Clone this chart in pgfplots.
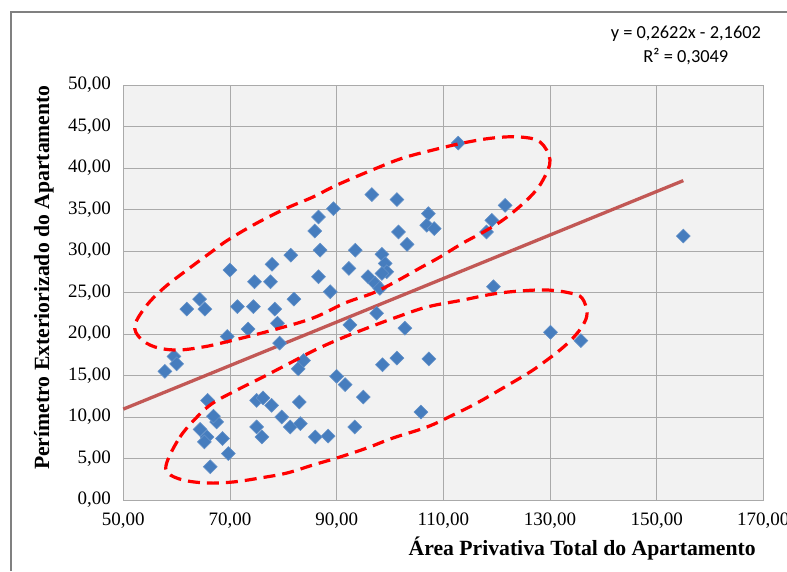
\documentclass[border=0pt]{standalone}
\usepackage{pgfplots}
\pgfplotsset{compat=1.18}
\usepackage{fontspec}
\setmainfont{Liberation Serif}
\newfontfamily\calib{Carlito}
\definecolor{bggray}{RGB}{242,242,242}
\definecolor{gridgray}{RGB}{170,170,170}
\definecolor{mblue}{RGB}{70,125,190}
\definecolor{trend}{RGB}{190,75,72}
\definecolor{framegray}{RGB}{128,128,128}
\begin{document}
\begin{tikzpicture}
\useasboundingbox (0,0) rectangle (787pt,571pt);
\begin{axis}[
  at={(123.3pt,71pt)}, anchor=south west,
  width=640pt, height=415pt, scale only axis,
  xmin=50, xmax=170, ymin=0, ymax=50,
  xtick={50,70,90,110,130,150,170},
  ytick={0,5,10,15,20,25,30,35,40,45,50},
  grid=major,
  major grid style={color=gridgray, line width=0.9pt},
  axis background/.style={fill=bggray},
  axis line style={color=gridgray, line width=0.9pt},
  tick style={draw=none},
  /pgf/number format/fixed,
  /pgf/number format/fixed zerofill,
  /pgf/number format/precision=2,
  /pgf/number format/use comma,
  /pgf/number format/1000 sep={},
  /pgf/number format/assume math mode=true,
  ticklabel style={font=\fontsize{19}{22}\selectfont},
  xticklabel style={yshift=-9pt},
  yticklabel style={xshift=-9pt},
  xlabel={\textbf{Área Privativa Total do Apartamento}},
  ylabel={\textbf{Perímetro Exteriorizado do Apartamento}},
  label style={font=\fontsize{21.7}{24}\selectfont},
  xlabel style={at={(axis description cs:0.717,-0.116)}, anchor=center},
  ylabel style={at={(axis description cs:-0.124,0.536)}, anchor=center, rotate=0},
  clip=false,
]
\addplot[only marks, mark=square*, mark size=4.9pt,
  mark options={rotate=45, fill=mblue, draw=mblue!85!white, line width=0.6pt}]
coordinates {
(112.8,43.0) (96.6,36.8) (101.3,36.2) (89.4,35.1) (121.6,35.5) (86.6,34.1)
(107.2,34.5) (119.1,33.7) (106.9,33.1) (108.3,32.7) (118.1,32.3) (85.9,32.4)
(101.6,32.3) (103.2,30.8) (86.9,30.1) (93.5,30.1) (81.4,29.5) (98.5,29.6)
(99.1,28.5) (99.4,27.5) (98.5,27.3) (92.3,27.9) (77.9,28.4) (70.0,27.7)
(95.9,26.9) (97.2,26.1) (98.1,25.5) (86.6,26.9) (88.8,25.1) (74.6,26.3)
(77.6,26.3) (119.4,25.7) (64.3,24.2) (65.3,23.0) (61.9,23.0) (82.0,24.2)
(71.4,23.3) (74.4,23.3) (78.4,23.0) (97.5,22.5) (78.9,21.3) (92.5,21.1)
(102.8,20.7) (73.4,20.6) (69.5,19.7) (79.3,18.9) (130.1,20.2) (135.8,19.2)
(59.5,17.3) (60.0,16.4) (57.8,15.5) (101.3,17.1) (107.3,17.0) (83.8,16.8)
(82.8,15.8) (98.6,16.3) (90.0,14.9) (91.6,13.9) (95.0,12.4)
(65.8,12.0) (75.0,12.0) (76.2,12.3) (77.8,11.4) (79.7,10.0) (81.3,8.8)
(83.2,9.2) (83.0,11.8) (86.0,7.6) (88.4,7.7) (93.4,8.8) (105.8,10.6)
(64.4,8.5) (65.7,7.6) (67.5,9.4) (66.9,10.1) (75.0,8.8) (76.0,7.6)
(69.7,5.6) (66.3,4.0) (68.6,7.4) (65.2,7.0) (155.0,31.8)
};
\addplot[trend, line width=3.3pt, opacity=0.92] coordinates {(50,10.95) (155,38.48)};
\node[font=\calib\fontsize{18.4}{21}\selectfont, anchor=center] at (axis description cs:0.879,1.123) {y = 0,2622x - 2,1602};
\node[font=\calib\fontsize{18.4}{21}\selectfont, anchor=center] at (axis description cs:0.879,1.069) {R² = 0,3049};
\end{axis}
\begin{scope}[x=1pt,y=-1pt,shift={(0pt,571pt)}]
\draw[framegray, line width=1.3pt] (11,571) -- (11,12) -- (787,12);
\draw[red, line width=3.2pt, dash pattern=on 12pt off 7pt] plot[smooth cycle, tension=0.6] coordinates {
(135,325) (147,305) (165,287) (187,270) (210,253) (228,240) (257,223) (287,208) (313,197) (337,185) (377,168) (403,158) (433,150) (463,143) (493,138) (520,137) (540,142) (550,160) (543,180) (530,197) (507,217) (487,230) (463,243) (440,257) (420,268) (395,282) (373,293) (345,303) (313,318) (273,330) (230,341) (203,347) (177,350) (155,347) (140,338)};
\draw[red, line width=3.2pt, dash pattern=on 12pt off 7pt] plot[smooth cycle, tension=0.6] coordinates {
(167,462) (180,437) (197,417) (213,403) (237,390) (263,377) (290,363) (315,350) (342,338) (370,327) (397,317) (427,307) (463,300) (493,294) (520,291) (547,290) (570,293) (582,298) (587,313) (583,325) (573,338) (560,350) (547,360) (530,372) (503,388) (477,403) (453,415) (427,427) (393,438) (367,448) (340,457) (313,465) (287,473) (260,478) (233,482) (207,483) (183,480) (168,473)};
\end{scope}
\end{tikzpicture}
\end{document}
